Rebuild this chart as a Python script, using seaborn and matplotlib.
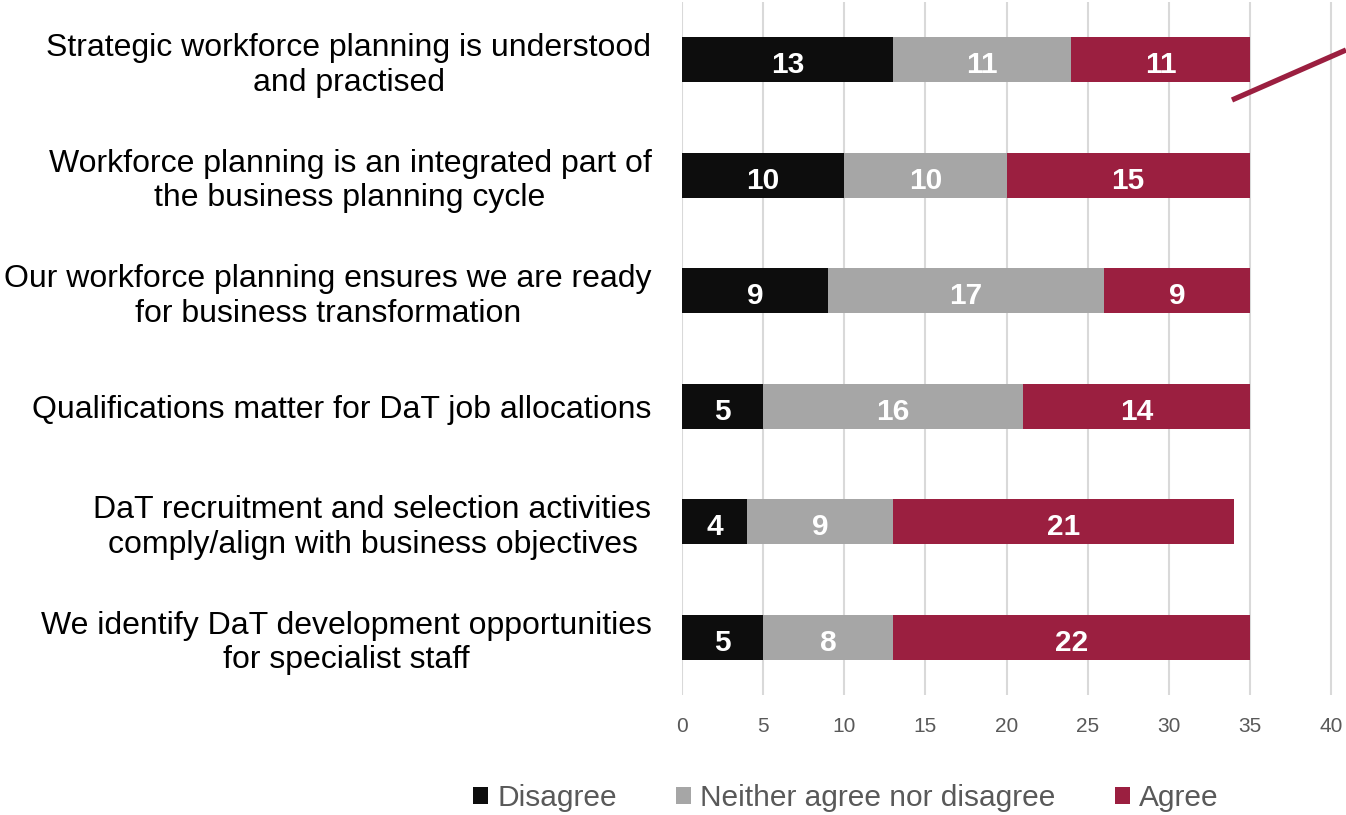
import matplotlib
matplotlib.use("Agg")
import matplotlib.pyplot as plt
from matplotlib.lines import Line2D
from matplotlib.patches import Patch
import numpy as np
import pandas as pd
import seaborn as sns

statements = [
    "Strategic workforce planning is understood\nand practised",
    "Workforce planning is an integrated part of\nthe business planning cycle",
    "Our workforce planning ensures we are ready\nfor business transformation",
    "Qualifications matter for DaT job allocations",
    "DaT recruitment and selection activities\ncomply/align with business objectives",
    "We identify DaT development opportunities\nfor specialist staff",
]
disagree = [13, 10, 9, 5, 4, 5]
neither = [11, 10, 17, 16, 9, 8]
agree = [11, 15, 9, 14, 21, 22]

series_names = ["Disagree", "Neither agree nor disagree", "Agree"]
colors = {"Disagree": "#0D0D0D", "Neither agree nor disagree": "#A6A6A6", "Agree": "#9B1F40"}

df = pd.DataFrame({"statement": statements, "Disagree": disagree,
                   "Neither agree nor disagree": neither, "Agree": agree})
df["cum_disagree"] = df["Disagree"]
df["cum_neither"] = df["Disagree"] + df["Neither agree nor disagree"]
df["cum_agree"] = df["cum_neither"] + df["Agree"]

sns.set_theme(style="white")
plt.rcParams["font.family"] = ["Liberation Sans", "DejaVu Sans"]

fig = plt.figure(figsize=(13.46, 8.15), dpi=100)
ax = fig.add_axes([682 / 1346, 1 - 695 / 815, 1 - 682 / 1346, (695 - 2) / 815])

# stacked bars: draw cumulative totals back to front
for col, name in [("cum_agree", "Agree"), ("cum_neither", "Neither agree nor disagree"),
                  ("cum_disagree", "Disagree")]:
    sns.barplot(data=df, y="statement", x=col, orient="h", color=colors[name],
                width=0.39, saturation=1, ax=ax, zorder=3, linewidth=0)

# value labels in the middle of each segment
for i, row in df.iterrows():
    start = 0
    for name in series_names:
        v = row[name]
        ax.text(start + v / 2, i + 0.02, f"{v}", ha="center", va="center_baseline",
                color="white", fontsize=21.5, fontweight="bold", zorder=4)
        start += v

ax.set_xlim(0, (1346 - 682) / 16.225)
ax.set_ylim(5.5, -0.5)
ax.set_xticks(np.arange(0, 45, 5))
ax.set_xlabel("")
ax.set_ylabel("")
ax.grid(axis="x", color="#D9D9D9", linewidth=1.5, zorder=0)
ax.grid(axis="y", visible=False)
for s in ax.spines.values():
    s.set_visible(False)
ax.tick_params(axis="x", length=0, pad=16, labelsize=15, labelcolor="#595959")
ax.tick_params(axis="y", length=0, pad=22, labelsize=23, labelcolor="black")
for lab in ax.get_yticklabels():
    lab.set_multialignment("center")
    lab.set_linespacing(1.2)

handles = [Patch(facecolor=colors[n], edgecolor="none") for n in series_names]
fig.legend(handles, series_names, loc="center", bbox_to_anchor=(846 / 1346, 1 - 798 / 815),
           ncol=3, frameon=False, fontsize=21.5, labelcolor="#595959",
           handlelength=0.5, handleheight=0.5, handletextpad=0.3, columnspacing=2.0)

# connector stroke at top right
fig.add_artist(Line2D([1232 / 1346, 1346 / 1346], [1 - 100 / 815, 1 - 50 / 815],
                      transform=fig.transFigure, color="#9B1F40", linewidth=3.8,
                      solid_capstyle="butt"))

fig.savefig("out.png", dpi=100)
